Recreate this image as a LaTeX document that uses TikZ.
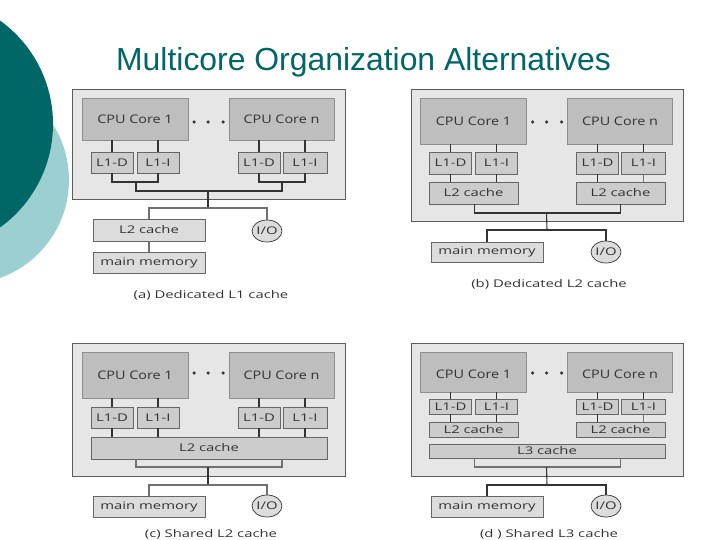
\documentclass[tikz,border=0pt]{standalone}
\usepackage{fontspec}
\setmainfont{Liberation Sans}
\newfontfamily\diagfont[FakeStretch=1.4]{Open Sans}
\newfontfamily\corefont[FakeStretch=1.22]{Open Sans}
\definecolor{teal}{HTML}{006666}
\definecolor{lteal}{HTML}{9CCFD0}
\definecolor{panelfill}{HTML}{E6E6E6}
\definecolor{cpufill}{HTML}{BEBEBE}
\definecolor{cachefill}{HTML}{CCCCCC}
\definecolor{memfill}{HTML}{DCDCDC}
\definecolor{ink}{HTML}{333333}
\usetikzlibrary{shapes.geometric}
\tikzset{
  boxbase/.style={inner sep=0pt,outer sep=0pt,text=ink,font=\diagfont\fontsize{10.6}{12}\selectfont},
  panelbox/.style={boxbase,fill=panelfill,draw=ink!80,line width=.8pt},
  cpubox/.style={boxbase,fill=cpufill,draw=cpufill!75!black,line width=.5pt,font=\corefont\fontsize{11.8}{13}\selectfont},
  cachebox/.style={boxbase,fill=cachefill,draw=ink!75,line width=.6pt},
  membox/.style={boxbase,fill=memfill,draw=ink!75,line width=.7pt},
  iobox/.style={boxbase,ellipse,fill=memfill,draw=ink,line width=.7pt,minimum width=30pt,minimum height=22pt},
  wire/.style={draw=ink,line width=1.1pt},
  softwire/.style={draw=ink!70,line width=1.1pt},
  dotmark/.style={circle,fill=ink,inner sep=0pt,minimum size=3.5pt},
  caption/.style={inner sep=0pt,text=ink,font=\diagfont\fontsize{10.6}{12}\selectfont},
}
\newcommand{\bx}[7]{%
  \pgfmathsetmacro\bxx{((#2)+(#4))/2}%
  \pgfmathsetmacro\bxy{((#3)+(#5))/2}%
  \pgfmathsetmacro\bxw{(#4)-(#2)}%
  \pgfmathsetmacro\bxh{(#5)-(#3)}%
  \node[#6,minimum width=\bxw pt,minimum height=\bxh pt] (#1) at (\bxx,\bxy) {#7};%
}
\newcommand{\cpudrop}{0pt}
% prefix, x offset, panel bottom, cpu top, cpu bottom, l1 top, l1 bottom, panel top, dot y
\newcommand{\corerow}[9]{%
  \pgfmathsetmacro\ox{#2}%
  \bx{#1panel}{\ox+72.5}{#8}{\ox+345}{#3}{panelbox}{}%
  \bx{#1cpua}{\ox+82}{#4}{\ox+188}{#5}{cpubox}{\raisebox{-\cpudrop}[\height][\depth]{CPU Core 1}}%
  \bx{#1cpub}{\ox+229}{#4}{\ox+334}{#5}{cpubox}{\raisebox{-\cpudrop}[\height][\depth]{CPU Core n}}%
  \bx{#1da}{\ox+91}{#6}{\ox+133}{#7}{cachebox}{L1-D}%
  \bx{#1ia}{\ox+137}{#6}{\ox+179}{#7}{cachebox}{L1-I}%
  \bx{#1db}{\ox+238}{#6}{\ox+280}{#7}{cachebox}{L1-D}%
  \bx{#1ib}{\ox+283}{#6}{\ox+327}{#7}{cachebox}{L1-I}%
  \node[dotmark] (#1dota) at (\ox+194,#9) {};%
  \node[dotmark] (#1dotb) at (\ox+208,#9) {};%
  \node[dotmark] (#1dotc) at (\ox+223,#9) {};%
  \draw[wire] (#1da.north) -- (#1da.north |- #1cpua.south);%
  \draw[wire] (#1ia.north) -- (#1ia.north |- #1cpua.south);%
  \draw[wire] (#1db.north) -- (#1db.north |- #1cpub.south);%
  \draw[wire] (#1ib.north) -- (#1ib.north |- #1cpub.south);%
}
\newcommand{\lowerbus}[3]{%
  \pgfmathsetmacro\ox{#2}%
  \coordinate (#1busl) at (\ox+136,#3);%
  \coordinate (#1busr) at (\ox+282,#3);%
  \coordinate (#1busc) at (\ox+208,#3);%
}
\begin{document}
\begin{tikzpicture}[x=1pt,y=-1pt]
\useasboundingbox (0,0) rectangle (720,540);
\clip (0,0) rectangle (720,540);
\fill[lteal] (-35,180) circle (104);
\fill[teal] (-74.5,124) circle (127.5);
\node[text=teal,font=\fontsize{31.9}{36}\selectfont,inner sep=0pt] (title) at (363.5,62.5) {Multicore Organization Alternatives};

% (a)
\corerow{a}{0}{199}{98}{140}{152}{173}{89}{122}
\lowerbus{a}{0}{191}
\coordinate (ajl) at (136,182);
\coordinate (ajr) at (282,182);
\draw[wire] (ada.south) |- (aia.south |- ajl) -- (aia.south);
\draw[wire] (adb.south) |- (aib.south |- ajr) -- (aib.south);
\draw[wire] (ajl) -- (abusl) -- (abusr) -- (ajr);
\bx{al2}{93}{219}{205}{241}{membox}{L2 cache}
\bx{amem}{93}{252}{205}{273}{membox}{main memory}
\node[iobox] (aio) at (267,231) {I/O};
\coordinate (atap) at (208,208);
\coordinate (aleft) at (149,208);
\draw[wire] (abusc) -- (atap);
\draw[softwire] (al2.north -| aleft) -- (aleft) -- (aleft -| aio.north) -- (aio.north);
\draw[softwire] (al2.south -| aleft) -- (amem.north -| aleft);
\node[caption] (acap) at (211,295) {(a) Dedicated L1 cache};

% (b)
\corerow{b}{338.5}{221}{98}{144}{152}{174}{89}{122}
\lowerbus{b}{338.5}{213}
\bx{bl2a}{429}{182}{518}{204}{cachebox}{L2 cache}
\bx{bl2b}{576}{182}{665}{204}{cachebox}{L2 cache}
\draw[wire] (bda.south) -- (bda.south |- bl2a.north);
\draw[wire] (bia.south) -- (bia.south |- bl2a.north);
\draw[wire] (bdb.south) -- (bdb.south |- bl2b.north);
\draw[softwire] (bib.south) -- (bib.south |- bl2b.north);
\draw[wire] (bl2a.south -| bbusl) -- (bbusl) -- (bbusr) -- (bl2b.south -| bbusr);
\bx{bmem}{431}{242}{543}{262}{membox}{main memory}
\node[iobox] (bio) at (606,252) {I/O};
\coordinate (btap) at (547,230);
\coordinate (bleft) at (487,230);
\draw[wire] (bbusc) -- (btap);
\draw[wire] (bmem.north -| bleft) -- (bleft) -- (bleft -| bio.north) -- (bio.north);
\node[caption] (bcap) at (549,284) {(b) Dedicated L2 cache};

% (c)
\corerow{c}{0}{476}{352}{398}{407}{428}{343}{373}
\lowerbus{c}{0}{467}
\bx{cl2}{91}{437}{327}{459}{cachebox}{L2 cache}
\draw[wire] (cda.south) -- (cda.south |- cl2.north);
\draw[wire] (cia.south) -- (cia.south |- cl2.north);
\draw[wire] (cdb.south) -- (cdb.south |- cl2.north);
\draw[wire] (cib.south) -- (cib.south |- cl2.north);
\draw[softwire] (cl2.south -| cbusl) -- (cbusl) -- (cbusr) -- (cl2.south -| cbusr);
\bx{cmem}{93}{496}{205}{517}{membox}{main memory}
\node[iobox] (cio) at (267,506) {I/O};
\coordinate (ctap) at (208,485);
\coordinate (cleft) at (149,485);
\draw[wire] (cbusc) -- (ctap);
\draw[softwire] (cmem.north -| cleft) -- (cleft) -- (cleft -| cio.north) -- (cio.north);
\node[caption] (ccap) at (211,534) {(c) Shared L2 cache};

% (d)
\renewcommand{\cpudrop}{2.5pt}
\corerow{d}{338.5}{476}{352}{392}{399}{414}{343}{373}
\lowerbus{d}{338.5}{467}
\bx{dl2a}{429}{422}{518}{437}{cachebox}{L2 cache}
\bx{dl2b}{576}{422}{665}{437}{cachebox}{L2 cache}
\bx{dl3}{429}{444}{665}{458}{cachebox}{L3 cache}
\draw[wire] (dda.south) -- (dda.south |- dl2a.north);
\draw[wire] (dia.south) -- (dia.south |- dl2a.north);
\draw[wire] (ddb.south) -- (ddb.south |- dl2b.north);
\draw[softwire] (dib.south) -- (dib.south |- dl2b.north);
\draw[softwire] (dl3.south -| dbusl) -- (dbusl) -- (dbusr) -- (dl3.south -| dbusr);
\bx{dmem}{431}{496}{543}{517}{membox}{main memory}
\node[iobox] (dio) at (606,506) {I/O};
\coordinate (dtap) at (547,485);
\coordinate (dleft) at (487,485);
\draw[wire] (dbusc) -- (dtap);
\draw[wire] (dmem.north -| dleft) -- (dleft) -- (dleft -| dio.north) -- (dio.north);
\node[caption] (dcap) at (549,534) {(d ) Shared L3 cache};
\end{tikzpicture}
\end{document}
